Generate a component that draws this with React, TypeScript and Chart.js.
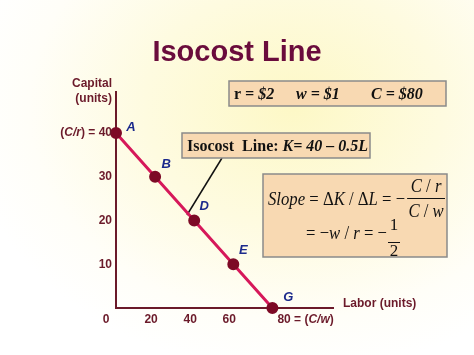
import React, { useEffect, useRef } from "react";
import { Chart, registerables } from "chart.js";

Chart.register(...registerables);

const labor = [0, 20, 40, 60, 80];
const capital = [40, 30, 20, 10, 0];
const pointNames = ["A", "B", "D", "E", "G"];
const xTickValues = [0, 20, 40, 60, 80];
const yTickValues = [10, 20, 30, 40];
const titleText = "Isocost Line";

const SANS = "'Liberation Sans', Arial, sans-serif";
const SERIF = "'Liberation Serif', 'Times New Roman', serif";
const MAROON = "#6b1a2a";
const TITLE = "#6a0c3c";
const NAVY = "#1c2a8c";

type Part = [string, string];

function runs(ctx: CanvasRenderingContext2D, x: number, y: number, parts: Part[], sx = 1) {
  for (const [t, f] of parts) {
    ctx.font = f;
    ctx.save();
    ctx.translate(x, y);
    ctx.scale(sx, 1);
    ctx.fillText(t, 0, 0);
    ctx.restore();
    x += ctx.measureText(t).width * sx;
  }
  return x;
}
function runsWidth(ctx: CanvasRenderingContext2D, parts: Part[], sx = 1) {
  let w = 0;
  for (const [t, f] of parts) {
    ctx.font = f;
    w += ctx.measureText(t).width * sx;
  }
  return w;
}

function box(ctx: CanvasRenderingContext2D, x: number, y: number, w: number, h: number) {
  ctx.save();
  ctx.fillStyle = "#f8d9b2";
  ctx.strokeStyle = "#8a8a8a";
  ctx.lineWidth = 1.5;
  ctx.fillRect(x, y, w, h);
  ctx.strokeRect(x, y, w, h);
  ctx.restore();
}

function hline(ctx: CanvasRenderingContext2D, x1: number, x2: number, y: number) {
  ctx.beginPath();
  ctx.moveTo(x1, y);
  ctx.lineTo(x2, y);
  ctx.stroke();
}

const decorPlugin = {
  id: "decor",
  beforeDatasetsDraw(chart: any) {
    const ctx: CanvasRenderingContext2D = chart.ctx;
    ctx.save();
    ctx.strokeStyle = "#111";
    ctx.lineWidth = 1.5;
    ctx.beginPath();
    ctx.moveTo(222, 158);
    ctx.lineTo(187, 215);
    ctx.stroke();
    ctx.restore();
  },
  afterDraw(chart: any) {
    const ctx: CanvasRenderingContext2D = chart.ctx;
    const xs = chart.scales.x;
    const ys = chart.scales.y;
    const area = chart.chartArea;
    ctx.save();
    // title
    ctx.fillStyle = TITLE;
    ctx.font = `bold 29px ${SANS}`;
    ctx.textAlign = "center";
    ctx.textBaseline = "middle";
    ctx.fillText(titleText, 237, 53);

    // axis titles
    ctx.fillStyle = MAROON;
    ctx.font = `bold 12px ${SANS}`;
    ctx.textAlign = "right";
    ctx.fillText("Capital", area.left - 4, 84);
    ctx.fillText("(units)", area.left - 4, 99);
    ctx.textAlign = "left";
    ctx.fillText("Labor (units)", area.right + 10, 304);

    // y tick labels
    const B = `bold 12px ${SANS}`;
    const BI = `italic bold 12px ${SANS}`;
    ctx.textAlign = "left";
    for (const v of yTickValues) {
      const py = ys.getPixelForValue(v);
      const parts: Part[] =
        v === 40 ? [["(", B], ["C/r", BI], [") = 40", B]] : [[String(v), B]];
      const w = runsWidth(ctx, parts);
      runs(ctx, area.left - 4 - w, py, parts);
    }
    // x tick labels
    const ty = area.bottom + 12;
    for (const v of xTickValues) {
      const px = xs.getPixelForValue(v);
      if (v === 0) {
        ctx.font = B;
        ctx.textAlign = "center";
        ctx.fillText("0", px - 10, ty);
      } else if (v === 80) {
        ctx.textAlign = "left";
        runs(ctx, px + 5, ty, [["80 = (", B], ["C/w", BI], [")", B]]);
      } else {
        ctx.font = B;
        ctx.textAlign = "center";
        ctx.fillText(String(v), px - 4, ty);
      }
    }

    // point labels
    const meta = chart.getDatasetMeta(0);
    ctx.fillStyle = NAVY;
    ctx.font = `italic bold 13px ${SANS}`;
    ctx.textAlign = "center";
    const offs = [[15, -6], [11, -12], [10, -14], [10, -14], [16, -11]];
    meta.data.forEach((el: any, i: number) => {
      ctx.fillText(pointNames[i], el.x + offs[i][0], el.y + offs[i][1]);
    });

    // r w C box
    box(ctx, 229, 81, 217, 25);
    ctx.fillStyle = "#111";
    ctx.textAlign = "left";
    ctx.textBaseline = "alphabetic";
    const TB = `bold 16px ${SERIF}`;
    const TBI = `italic bold 16px ${SERIF}`;
    runs(ctx, 234, 99, [["r", TB], [" = $2", TBI]]);
    runs(ctx, 296, 99, [["w = $1", TBI]]);
    runs(ctx, 371, 99, [["C = $80", TBI]]);

    // isocost label box
    box(ctx, 182, 133, 188, 25);
    ctx.fillStyle = "#111";
    runs(ctx, 187, 151, [["Isocost  Line: ", TB], ["K", TBI], ["= 40 \u2013 0.5", TBI], ["L", TBI]]);

    // slope box
    box(ctx, 263, 174, 184, 83);
    ctx.fillStyle = "#111";
    ctx.strokeStyle = "#111";
    ctx.lineWidth = 1;
    const SX = 0.88;
    const I = `italic 19px ${SERIF}`;
    const R = `19px ${SERIF}`;
    const line1: Part[] = [["Slope", I], [" = \u0394", R], ["K", I], [" / \u0394", R], ["L", I], [" = \u2212", R]];
    const end1 = runs(ctx, 268, 205, line1, SX);
    const num: Part[] = [["C", I], [" / ", R], ["r", I]];
    const den: Part[] = [["C", I], [" / ", R], ["w", I]];
    const fx1 = end1 + 2;
    const fx1r = 445;
    const fc = (fx1 + fx1r) / 2;
    runs(ctx, fc - runsWidth(ctx, num, SX) / 2, 192, num, SX);
    runs(ctx, fc - runsWidth(ctx, den, SX) / 2, 217, den, SX);
    hline(ctx, fx1, fx1r, 198.5);

    const line2: Part[] = [["= \u2212", R], ["w", I], [" / ", R], ["r", I], [" = \u2212", R]];
    const fx2 = 388;
    const w2 = runsWidth(ctx, line2, SX);
    runs(ctx, fx2 - 1 - w2, 239, line2, SX);
    ctx.font = `17px ${SERIF}`;
    ctx.textAlign = "center";
    ctx.fillText("1", fx2 + 6, 230);
    ctx.fillText("2", fx2 + 6, 255.5);
    hline(ctx, fx2, fx2 + 12, 242.5);
    ctx.restore();
  },
};

export default function App() {
  const ref = useRef<HTMLCanvasElement>(null);
  useEffect(() => {
    document.body.style.margin = "0";
    const chart = new Chart(ref.current!, {
      type: "line",
      data: {
        datasets: [
          {
            data: labor.map((l, i) => ({ x: l, y: capital[i] })),
            borderColor: "#d6185a",
            borderWidth: 3,
            pointRadius: 4.5,
            pointBackgroundColor: "#7d0a26",
            pointBorderColor: "#7d0a26",
            clip: false as any,
          },
        ],
      },
      options: {
        animation: false,
        responsive: true,
        maintainAspectRatio: false,
        layout: { padding: { left: 116, top: 92, right: 141, bottom: 47 } },
        plugins: { legend: { display: false }, tooltip: { enabled: false } },
        scales: {
          x: {
            type: "linear",
            min: 0,
            max: 111,
            grid: { display: false, drawTicks: false },
            ticks: { display: false },
            border: { display: true, color: MAROON, width: 2 },
          },
          y: {
            type: "linear",
            min: 0,
            max: 49.4,
            grid: { display: false, drawTicks: false },
            ticks: { display: false },
            border: { display: true, color: MAROON, width: 2 },
          },
        },
      },
      plugins: [decorPlugin],
    });
    return () => chart.destroy();
  }, []);
  return (
    <div
      style={{
        position: "absolute",
        left: 0,
        top: 0,
        width: 474,
        height: 355,
        background:
          "radial-gradient(ellipse 70% 75% at 62% 30%, #fdf8c6 0%, #fefbe0 45%, #fffef8 80%, #ffffff 100%)",
      }}
    >
      <canvas ref={ref} />
    </div>
  );
}
